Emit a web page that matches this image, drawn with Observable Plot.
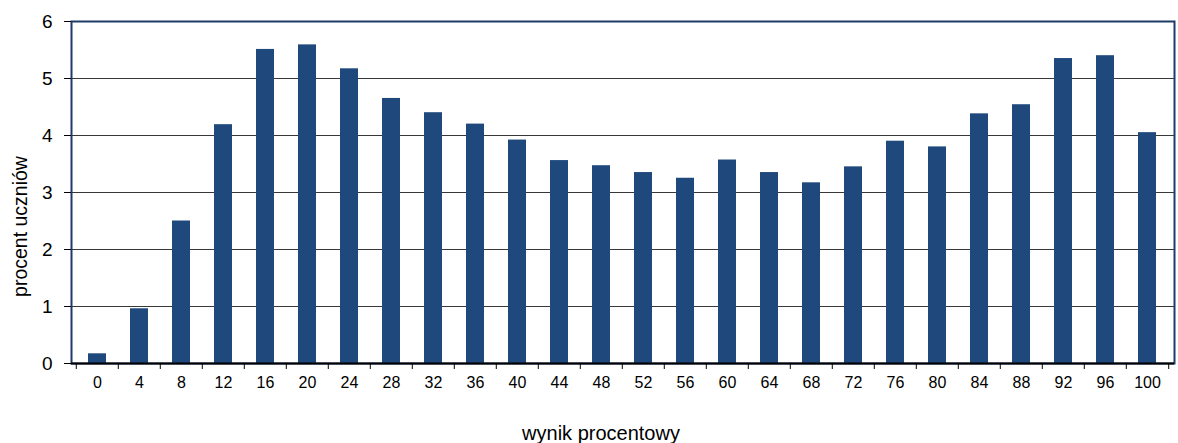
<!DOCTYPE html>
<html>
<head>
<meta charset="utf-8">
<script src="https://cdn.jsdelivr.net/npm/d3@7"></script>
<script src="https://cdn.jsdelivr.net/npm/@observablehq/plot@0.6"></script>
<style>
  html, body { margin: 0; padding: 0; background: #fff; }
</style>
</head>
<body>
<div id="chart"></div>
<script>
const scores = [0, 4, 8, 12, 16, 20, 24, 28, 32, 36, 40, 44, 48, 52, 56, 60, 64, 68, 72, 76, 80, 84, 88, 92, 96, 100];
const percents = [0.17, 0.96, 2.50, 4.19, 5.51, 5.59, 5.17, 4.65, 4.40, 4.20, 3.92, 3.56, 3.47, 3.35, 3.25, 3.57, 3.35, 3.17, 3.45, 3.90, 3.80, 4.38, 4.54, 5.35, 5.40, 4.05];
const yTicks = [0, 1, 2, 3, 4, 5, 6];
const xTitle = "wynik procentowy";
const yTitle = "procent uczniów";

const data = scores.map((s, i) => ({score: String(s), pct: percents[i]}));
const labels = scores.map(String);

const W = 1178, H = 443, mL = 71, mR = 4, mT = 21, mB = 80;
const step = (W - mL - mR) / labels.length;

const chart = Plot.plot({
  width: W,
  height: H,
  marginLeft: mL,
  marginRight: mR,
  marginTop: mT,
  marginBottom: mB,
  style: {fontFamily: "'Liberation Sans', Arial, sans-serif", background: "#fff", color: "#000"},
  x: {domain: labels, paddingInner: 0.57, paddingOuter: 0.285},
  y: {domain: [0, 6]},
  marks: [
    Plot.gridY(yTicks.filter(d => d > 0 && d < 6), {stroke: "#222", strokeOpacity: 0.9, strokeWidth: 1}),
    Plot.barY(data, {x: "score", y: "pct", fill: "#1f497d"}),
    Plot.frame({stroke: "#1c3b68", strokeWidth: 2}),
    Plot.ruleY([0], {stroke: "#000", strokeWidth: 2}),
    Plot.axisY({ticks: yTicks, tickFormat: d3.format("d"), tickSize: 7, tickPadding: 12, fontSize: 19, label: null, stroke: "#000"}),
    Plot.axisX({tickSize: 0, tickPadding: 13, fontSize: 16, label: null}),
    Plot.axisX({tickSize: 6, tickFormat: () => "", label: null, dx: -step / 2, stroke: "#000"}),
    Plot.axisX({ticks: [labels[labels.length - 1]], tickSize: 6, tickFormat: () => "", label: null, dx: step / 2, stroke: "#000"}),
    Plot.text([yTitle], {frameAnchor: "left", textAnchor: "middle", dx: -51, dy: 34, rotate: -90, fontSize: 19.5, text: d => d, fill: "#000"}),
    Plot.text([xTitle], {frameAnchor: "bottom", dx: -22, dy: 70, fontSize: 20, text: d => d, fill: "#000", lineAnchor: "middle"})
  ]
});
document.getElementById("chart").appendChild(chart);
</script>
</body>
</html>
